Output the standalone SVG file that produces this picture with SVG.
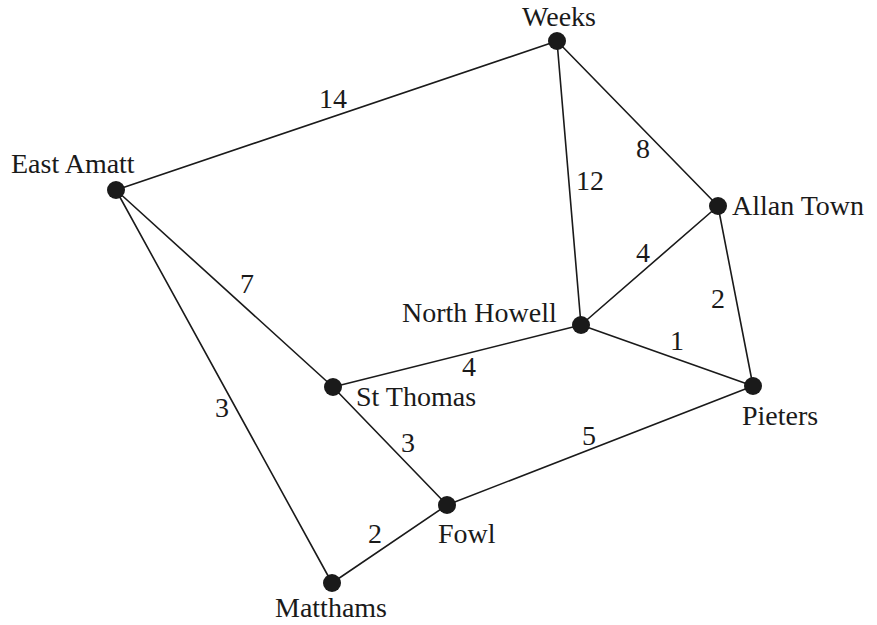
<svg xmlns="http://www.w3.org/2000/svg" width="877" height="625" viewBox="0 0 877 625" font-family="'Liberation Serif', Tinos, 'Times New Roman', 'DejaVu Serif', serif">
  <style>
    .edge { stroke: #1a1a1a; stroke-width: 1.6; fill: none; stroke-linecap: round; }
    .node { fill: #1a1a1a; }
    text { font-family: 'Liberation Serif', Tinos, 'Times New Roman', 'DejaVu Serif', serif; font-size: 28px; fill: #1a1a1a; }
    .w { text-anchor: middle; }
  </style>
  <rect width="877" height="625" fill="#ffffff"/>

  <g id="connectors">
    <line class="edge" x1="116" y1="190" x2="557" y2="41"/>
    <line class="edge" x1="557" y1="41" x2="718" y2="206"/>
    <line class="edge" x1="557" y1="41" x2="581" y2="325"/>
    <line class="edge" x1="718" y1="206" x2="581" y2="325"/>
    <line class="edge" x1="718" y1="206" x2="753" y2="386"/>
    <line class="edge" x1="581" y1="325" x2="753" y2="386"/>
    <line class="edge" x1="581" y1="325" x2="333" y2="387"/>
    <line class="edge" x1="116" y1="190" x2="333" y2="387"/>
    <line class="edge" x1="116" y1="190" x2="332" y2="583"/>
    <line class="edge" x1="333" y1="387" x2="447" y2="505"/>
    <line class="edge" x1="447" y1="505" x2="753" y2="386"/>
    <line class="edge" x1="332" y1="583" x2="447" y2="505"/>

    <!-- edge weights -->
    <text class="w" x="333" y="108">14</text>
    <text class="w" x="643" y="158">8</text>
    <text class="w" x="590" y="190">12</text>
    <text class="w" x="643" y="262">4</text>
    <text class="w" x="718" y="308">2</text>
    <text class="w" x="247" y="293">7</text>
    <text class="w" x="677" y="350">1</text>
    <text class="w" x="469" y="376">4</text>
    <text class="w" x="222" y="417">3</text>
    <text class="w" x="408" y="452">3</text>
    <text class="w" x="589" y="445">5</text>
    <text class="w" x="375" y="543">2</text>
  </g>

  <g id="weeks">
    <circle class="node" cx="557" cy="41" r="9"/>
    <text x="559" y="26" text-anchor="middle">Weeks</text>
  </g>
  <g id="east-amatt">
    <circle class="node" cx="116" cy="190" r="9"/>
    <text x="11" y="173">East Amatt</text>
  </g>
  <g id="allan-town">
    <circle class="node" cx="718" cy="206" r="9"/>
    <text x="732" y="215">Allan Town</text>
  </g>
  <g id="north-howell">
    <circle class="node" cx="581" cy="325" r="9"/>
    <text x="402" y="322">North Howell</text>
  </g>
  <g id="pieters">
    <circle class="node" cx="753" cy="386" r="9"/>
    <text x="742" y="425">Pieters</text>
  </g>
  <g id="st-thomas">
    <circle class="node" cx="333" cy="387" r="9"/>
    <text x="356" y="406">St Thomas</text>
  </g>
  <g id="fowl">
    <circle class="node" cx="447" cy="505" r="9"/>
    <text x="438" y="543">Fowl</text>
  </g>
  <g id="matthams">
    <circle class="node" cx="332" cy="583" r="9"/>
    <text x="331" y="617" text-anchor="middle">Matthams</text>
  </g>
</svg>
